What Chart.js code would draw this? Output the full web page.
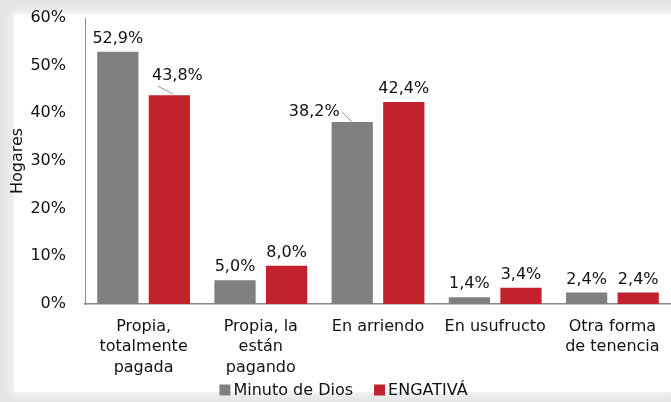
<!DOCTYPE html>
<html>
<head>
<meta charset="utf-8">
<script src="https://cdn.jsdelivr.net/npm/chart.js@4.4.0/dist/chart.umd.min.js"></script>
<style>
html,body{margin:0;padding:0;background:#e4e4e4;width:671px;height:402px;overflow:hidden}
#panel{position:absolute;left:14px;top:14px;right:0;bottom:10px;background:#fff;box-shadow:0 0 8px 4px rgba(255,255,255,.6)}
#wrap{position:absolute;left:0;top:0;width:671px;height:402px}
</style>
</head>
<body>
<div id="panel"></div>
<div id="wrap"><canvas id="c"></canvas></div>
<script>
// ==================================================
// Data
// ==================================================
const CATEGORIES=[['Propia,','totalmente','pagada'],['Propia, la','están','pagando'],'En arriendo','En usufructo',['Otra forma','de tenencia']];
const MINUTO=[52.9,5.0,38.2,1.4,2.4];
const ENGATIVA=[43.8,8.0,42.4,3.4,2.4];
const Y_TICKS=[0,10,20,30,40,50,60];

const FONT='"DejaVu Sans", Verdana, sans-serif';
const GRAY='#808083',RED='#c1222b';

// label nudges (dataset,index) -> [dx,dy,leader]
const LABEL_NUDGE={'0-2':[-38,3,true],'1-0':[8,-6,true]};

// ==================================================
// Value labels plugin
// ==================================================
const valueLabels={id:'valueLabels',afterDatasetsDraw(chart){
  const ctx=chart.ctx;ctx.save();
  ctx.font='16px '+FONT;ctx.fillStyle='#111';ctx.textAlign='center';ctx.textBaseline='bottom';
  chart.data.datasets.forEach((ds,di)=>{
    chart.getDatasetMeta(di).data.forEach((bar,i)=>{
      const txt=ds.data[i].toFixed(1).replace('.',',')+'%';
      const n=LABEL_NUDGE[di+'-'+i];
      let x=bar.x,y=bar.y-5;
      if(n){
        x+=n[0];y+=n[1];
        if(n[2]){
          ctx.strokeStyle='#999';ctx.lineWidth=1;ctx.beginPath();
          if(n[0]<0){ctx.moveTo(x+ctx.measureText(txt).width/2+2,y-8);ctx.lineTo(bar.x,bar.y);}
          else{ctx.moveTo(x-ctx.measureText(txt).width/2+6,y+2);ctx.lineTo(bar.x+4,bar.y-1);}
          ctx.stroke();
        }
      }
      ctx.fillText(txt,x,y);
    });
  });
  ctx.restore();
}};

// ==================================================
// Bottom legend (drawn by hand for tighter spacing)
// ==================================================
const bottomLegend={id:'bottomLegend',afterDraw(chart){
  const ctx=chart.ctx,ds=chart.data.datasets,box=11,gap=3,sep=21,cy=390;
  ctx.save();ctx.font='16px '+FONT;ctx.textBaseline='middle';ctx.textAlign='left';
  const widths=ds.map(d=>box+gap+ctx.measureText(d.label).width);
  const total=widths.reduce((a,b)=>a+b,0)+sep*(ds.length-1);
  let x=chart.width/2+8-total/2;
  ds.forEach((d,i)=>{
    ctx.fillStyle=d.backgroundColor;ctx.fillRect(x,cy-box/2,box,box);
    ctx.fillStyle='#111';ctx.fillText(d.label,x+box+gap,cy+1);
    x+=widths[i]+sep;
  });
  ctx.restore();
}};

// ==================================================
// Chart
// ==================================================
new Chart(document.getElementById('c'),{
  type:'bar',
  data:{labels:CATEGORIES,datasets:[
    {label:'Minuto de Dios',data:MINUTO,backgroundColor:GRAY,categoryPercentage:.88,barPercentage:.8},
    {label:'ENGATIVÁ',data:ENGATIVA,backgroundColor:RED,categoryPercentage:.88,barPercentage:.8}
  ]},
  options:{
    responsive:true,maintainAspectRatio:false,animation:false,
    layout:{padding:{left:8,top:18,right:0,bottom:26}},
    plugins:{legend:{display:false},tooltip:{enabled:false}},
    scales:{
      x:{grid:{display:false,drawTicks:false},border:{display:true,color:'#8a8a8a',width:1.5},
        afterFit:s=>{s.height=72;s.paddingLeft=0;s.paddingRight=0;},
        ticks:{font:{family:FONT,size:16,lineHeight:1.3},color:'#111',padding:12,maxRotation:0,autoSkip:false}},
      y:{min:0,max:60,grid:{display:false,drawTicks:false},border:{display:true,color:'#8a8a8a',width:1},
        afterFit:s=>{s.width=77;s.paddingTop=0;s.paddingBottom=0;},
        afterBuildTicks:s=>{s.ticks=Y_TICKS.map(v=>({value:v}));},
        ticks:{font:{family:FONT,size:16},color:'#111',padding:19,callback:v=>v+'%'},
        title:{display:true,text:'Hogares',font:{family:FONT,size:16},color:'#111',padding:0}}
    }
  },
  plugins:[valueLabels,bottomLegend]
});
</script>
</body>
</html>
